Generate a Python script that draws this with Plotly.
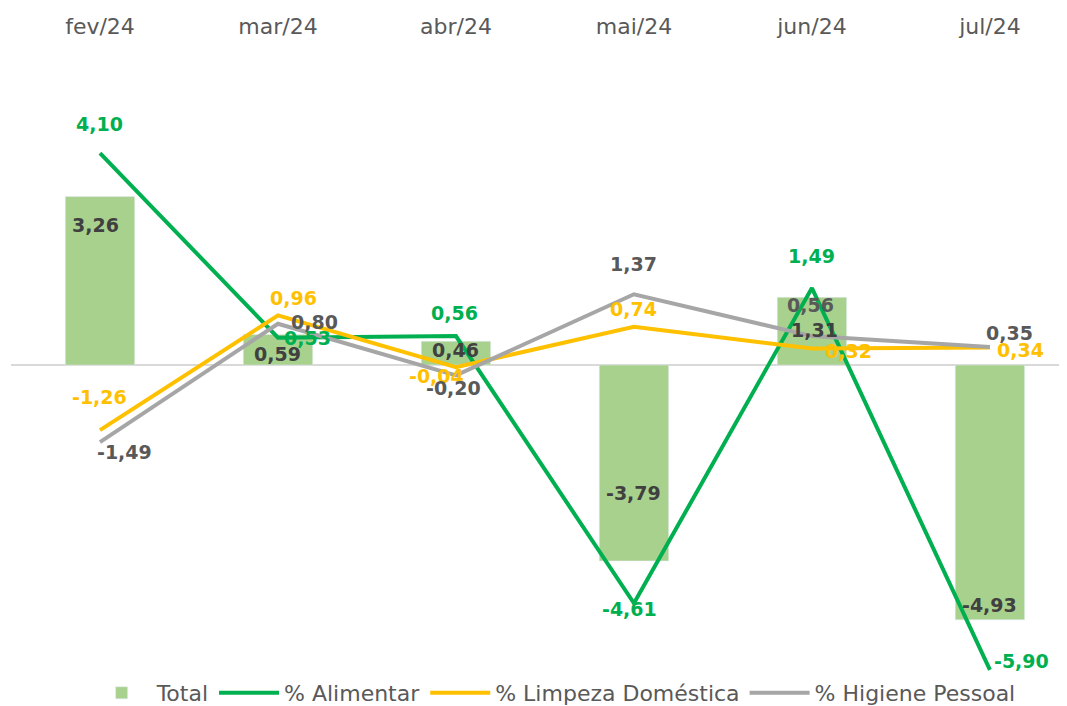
import plotly.graph_objects as go

categories = ["fev/24", "mar/24", "abr/24", "mai/24", "jun/24", "jul/24"]
total = [3.26, 0.59, 0.46, -3.79, 1.31, -4.93]
alimentar = [4.10, 0.53, 0.56, -4.61, 1.49, -5.90]
limpeza = [-1.26, 0.96, -0.04, 0.74, 0.32, 0.34]
higiene = [-1.49, 0.80, -0.20, 1.37, 0.56, 0.35]

# label offsets in pixels (dx right, dy down)
off_total = [(-4, 28), (0, 19), (0, 9), (0, -68), (3, 33), (0, -15)]
off_alim = [(0, -29), (30, 0), (-1, -23), (-4, 6), (0, -32), (32, -9)]
off_limp = [(0, -33), (16, -17), (-19, 9), (0, -18), (37, 2), (31, 3)]
off_hig = [(25, 10), (37, -2), (-2, 13), (0, -30), (-1, -31), (20, -14)]

FONT = "DejaVu Sans"
fig = go.Figure()
fig.add_trace(go.Bar(x=categories, y=total, name="Total", marker_color="#a9d18e",
                     width=0.39))
fig.add_trace(go.Scatter(x=categories, y=alimentar, name="% Alimentar", mode="lines",
                         line=dict(color="#00b050", width=4), cliponaxis=False))
fig.add_trace(go.Scatter(x=categories, y=limpeza, name="% Limpeza Doméstica", mode="lines",
                         line=dict(color="#ffc000", width=4), cliponaxis=False))
fig.add_trace(go.Scatter(x=categories, y=higiene, name="% Higiene Pessoal", mode="lines",
                         line=dict(color="#a6a6a6", width=4), cliponaxis=False))

def fmt(v):
    return f"{v:.2f}".replace(".", ",")

annotations = []
for vals, offs, col in [(total, off_total, "#404040"), (alimentar, off_alim, "#00b050"),
                        (limpeza, off_limp, "#ffc000"), (higiene, off_hig, "#595959")]:
    for c, v, (dx, dy) in zip(categories, vals, offs):
        annotations.append(dict(x=c, y=v, xref="x", yref="y", text=fmt(v), showarrow=False,
                                xshift=dx, yshift=-dy,
                                font=dict(family=FONT, size=19, color=col, weight="bold")))

fig.update_layout(
    width=1067, height=706,
    margin=dict(l=3, r=0, t=47, b=38),
    paper_bgcolor="white", plot_bgcolor="white",
    font=dict(family=FONT, color="#595959"),
    annotations=annotations,
    showlegend=True,
    legend=dict(orientation="h", x=0.51, xanchor="center", y=0, yanchor="top",
                font=dict(size=22, color="#595959"), traceorder="normal",
                itemwidth=60, tracegroupgap=0),
    xaxis=dict(type="category", side="top", range=[-0.5, 5.478], showgrid=False,
               showline=False, ticks="", tickfont=dict(size=22, color="#595959"),
               ticklabelstandoff=16, automargin=False),
    yaxis=dict(range=[-5.94, 6.0], showgrid=False, showticklabels=False, zeroline=True,
               zerolinecolor="#d9d9d9", zerolinewidth=1.5, showline=False,
               automargin=False),
)

fig.write_html("out.html")
